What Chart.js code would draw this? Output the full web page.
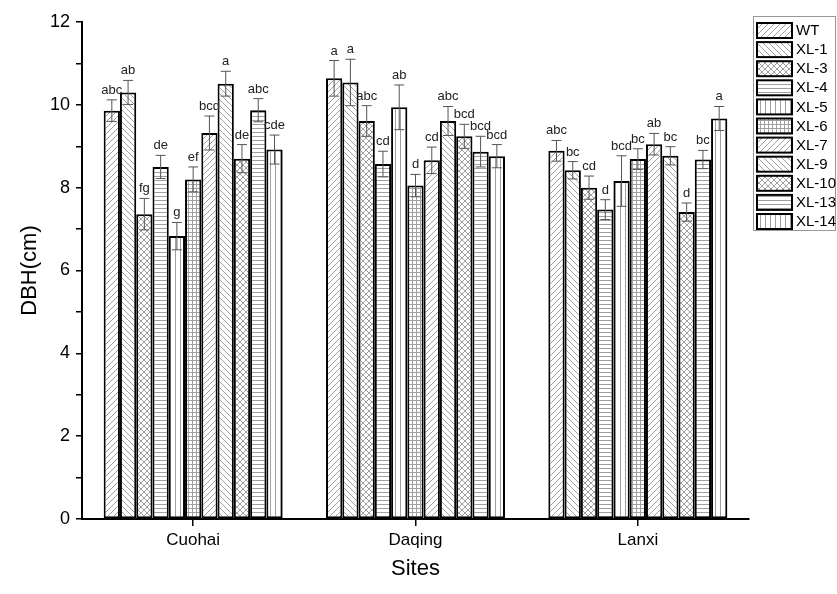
<!DOCTYPE html>
<html>
<head>
<meta charset="utf-8">
<script src="https://cdn.jsdelivr.net/npm/chart.js@4.4.1/dist/chart.umd.min.js"></script>
<style>
  body { margin: 0; background: #fff; }
  #wrap { width: 837px; height: 594px; }
</style>
</head>
<body>
<div id="wrap"><canvas id="dbhChart" width="837" height="594"></canvas></div>
<script>
// sites on the x axis
const sites = ['Cuohai', 'Daqing', 'Lanxi'];
// lines (one bar per line in every site)
const lines = ['WT', 'XL-1', 'XL-3', 'XL-4', 'XL-5', 'XL-6', 'XL-7', 'XL-9', 'XL-10', 'XL-13', 'XL-14'];

// mean DBH per site, in line order
const cuohaiMean = [9.86, 10.30, 7.36, 8.50, 6.83, 8.20, 9.32, 10.51, 8.70, 9.87, 8.92];
const daqingMean = [10.64, 10.54, 9.61, 8.57, 9.94, 8.05, 8.66, 9.61, 9.24, 8.87, 8.76];
const lanxiMean  = [8.89, 8.42, 8.00, 7.47, 8.16, 8.69, 9.05, 8.77, 7.41, 8.68, 9.67];

// error bar half lengths
const cuohaiErr = [0.26, 0.29, 0.38, 0.28, 0.33, 0.30, 0.41, 0.30, 0.34, 0.28, 0.35];
const daqingErr = [0.43, 0.56, 0.37, 0.31, 0.54, 0.27, 0.32, 0.35, 0.29, 0.37, 0.28];
const lanxiErr  = [0.25, 0.21, 0.28, 0.24, 0.61, 0.25, 0.26, 0.22, 0.22, 0.22, 0.29];

// significance letters
const cuohaiSig = ['abc', 'ab', 'fg', 'de', 'g', 'ef', 'bcd', 'a', 'de', 'abc', 'cde'];
const daqingSig = ['a', 'a', 'abc', 'cd', 'ab', 'd', 'cd', 'abc', 'bcd', 'bcd', 'bcd'];
const lanxiSig  = ['abc', 'bc', 'cd', 'd', 'bcd', 'bc', 'ab', 'bc', 'd', 'bc', 'a'];

// hatch fill per line
const hatches = ['fwd', 'back', 'cross', 'horiz', 'vert', 'grid', 'fwd', 'back', 'cross', 'horiz', 'vert'];

const yTicks = [0, 2, 4, 6, 8, 10, 12];

const FONT = "'Liberation Sans', Arial, sans-serif";

function makePattern(type) {
    const s = type === 'horiz' || type === 'grid' ? 4 : (type === 'vert' ? 5 : 6);
    const c = document.createElement('canvas');
    c.width = s; c.height = s;
    const g = c.getContext('2d');
    g.fillStyle = '#fff';
    g.fillRect(0, 0, s, s);
    g.strokeStyle = '#a0a0a0';
    g.lineWidth = 1;
    g.beginPath();
    if (type === 'fwd' || type === 'cross') {
        g.moveTo(0, s); g.lineTo(s, 0);
        g.moveTo(-1, 1); g.lineTo(1, -1);
        g.moveTo(s - 1, s + 1); g.lineTo(s + 1, s - 1);
    }
    if (type === 'back' || type === 'cross') {
        g.moveTo(0, 0); g.lineTo(s, s);
        g.moveTo(s - 1, -1); g.lineTo(s + 1, 1);
        g.moveTo(-1, s - 1); g.lineTo(1, s + 1);
    }
    if (type === 'horiz' || type === 'grid') {
        g.moveTo(0, 0.5); g.lineTo(s, 0.5);
    }
    if (type === 'vert' || type === 'grid') {
        g.moveTo(0.5, 0); g.lineTo(0.5, s);
    }
    g.stroke();
    return g.createPattern(c, 'repeat');
}

const means = [cuohaiMean, daqingMean, lanxiMean];
const errs = [cuohaiErr, daqingErr, lanxiErr];
const sigs = [cuohaiSig, daqingSig, lanxiSig];

const datasets = lines.map(function(name, i) {
    return {
        label: name,
        data: means.map(m => m[i]),
        err: errs.map(e => e[i]),
        sig: sigs.map(s => s[i]),
        backgroundColor: makePattern(hatches[i]),
        borderColor: '#000',
        borderWidth: 2,
        borderSkipped: false
    };
});

// error bars and letters on top of each bar
const errorBars = {
    id: 'errorBars',
    afterDatasetsDraw(chart) {
        const ctx = chart.ctx;
        const y = chart.scales.y;
        ctx.save();
        chart.data.datasets.forEach(function(ds, di) {
            const meta = chart.getDatasetMeta(di);
            meta.data.forEach(function(bar, j) {
                const v = ds.data[j], e = ds.err[j];
                const top = y.getPixelForValue(v + e);
                const bot = y.getPixelForValue(v - e);
                ctx.strokeStyle = '#555';
                ctx.lineWidth = 1;
                ctx.beginPath();
                ctx.moveTo(bar.x, top); ctx.lineTo(bar.x, bot);
                ctx.moveTo(bar.x - 5, top); ctx.lineTo(bar.x + 5, top);
                ctx.moveTo(bar.x - 5, bot); ctx.lineTo(bar.x + 5, bot);
                ctx.stroke();
                ctx.fillStyle = '#222';
                ctx.font = '13px ' + FONT;
                ctx.textAlign = 'center';
                ctx.textBaseline = 'alphabetic';
                ctx.fillText(ds.sig[j], bar.x, top - 6);
            });
        });
        ctx.restore();
    }
};

// framed legend at the right, drawn from the datasets
const boxLegend = {
    id: 'boxLegend',
    afterDraw(chart) {
        const ctx = chart.ctx;
        ctx.save();
        ctx.strokeStyle = '#999';
        ctx.lineWidth = 1;
        ctx.strokeRect(753.5, 16.5, 82, 214);
        chart.data.datasets.forEach(function(ds, i) {
            const yy = 23 + i * 19.1;
            ctx.fillStyle = ds.backgroundColor;
            ctx.fillRect(757, yy, 35, 15);
            ctx.strokeStyle = '#000';
            ctx.lineWidth = 2;
            ctx.strokeRect(757, yy, 35, 15);
            ctx.fillStyle = '#000';
            ctx.font = '15px ' + FONT;
            ctx.textAlign = 'left';
            ctx.textBaseline = 'middle';
            ctx.fillText(ds.label, 796, yy + 8);
        });
        ctx.restore();
    }
};

new Chart(document.getElementById('dbhChart'), {
    type: 'bar',
    data: { labels: sites, datasets: datasets },
    options: {
        responsive: false,
        animation: false,
        devicePixelRatio: 1,
        layout: { padding: { top: 22, right: 88, left: 0, bottom: 0 } },
        datasets: { bar: { categoryPercentage: 0.805, barPercentage: 1.0 } },
        plugins: { legend: { display: false }, tooltip: { enabled: false } },
        scales: {
            x: {
                afterFit(scale) { scale.height = 75; },
                grid: { display: true, drawOnChartArea: false, offset: false, tickLength: 7, color: '#000', lineWidth: 1.5 },
                border: { display: true, color: '#000', width: 2 },
                ticks: { color: '#000', font: { family: FONT, size: 17 }, padding: 4 },
                title: { display: true, text: 'Sites', color: '#000', font: { family: FONT, size: 22 }, padding: { top: 0, bottom: 12 } }
            },
            y: {
                min: 0,
                max: 12,
                afterFit(scale) { scale.width = 82; },
                afterBuildTicks(scale) {
                    scale.ticks = [];
                    for (let v = 0; v <= 12; v++) scale.ticks.push({ value: v });
                },
                grid: { display: true, drawOnChartArea: false, tickLength: 6, color: '#000', lineWidth: 1.5 },
                border: { display: true, color: '#000', width: 2 },
                ticks: {
                    color: '#000',
                    font: { family: FONT, size: 18 },
                    padding: 6,
                    callback: function(v) { return yTicks.includes(v) ? String(v) : ''; }
                },
                title: { display: true, text: 'DBH(cm)', color: '#000', font: { family: FONT, size: 22 }, padding: { top: 17, bottom: 0 } }
            }
        }
    },
    plugins: [errorBars, boxLegend]
});
</script>
</body>
</html>
